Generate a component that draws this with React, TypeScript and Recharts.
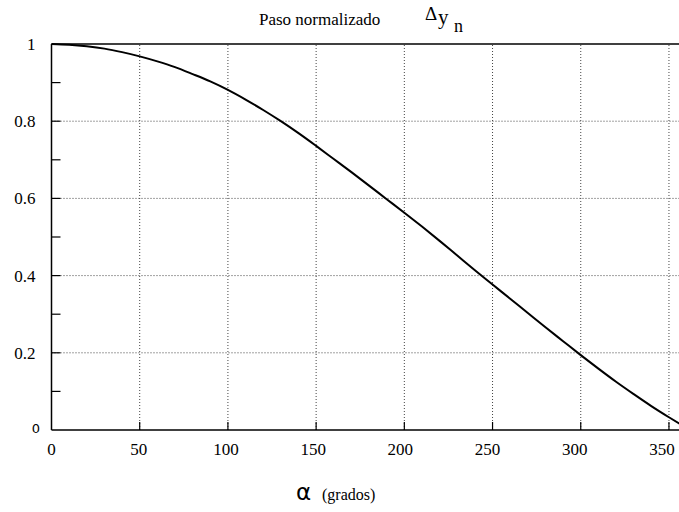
import React from "react";
import {
  LineChart,
  Line,
  XAxis,
  YAxis,
  ReferenceLine,
} from "recharts";

// ángulo (grados) y paso normalizado
const alphaDeg = [
  0, 10, 20, 30, 40, 50, 60, 70, 80, 90, 100, 110, 120, 130, 140, 150, 160, 170,
  180, 190, 200, 210, 220, 230, 240, 250, 260, 270, 280, 290, 300, 310, 320, 330,
  340, 350, 360,
];
const pasoNorm = [
  1.0, 0.998, 0.994, 0.988, 0.979, 0.968, 0.955, 0.94, 0.922, 0.903, 0.881, 0.856,
  0.829, 0.8, 0.769, 0.736, 0.702, 0.668, 0.633, 0.598, 0.563, 0.527, 0.49, 0.452,
  0.414, 0.377, 0.34, 0.303, 0.266, 0.23, 0.194, 0.159, 0.125, 0.093, 0.062, 0.033,
  0.005,
];

const xTicks = [0, 50, 100, 150, 200, 250, 300, 350];
const yTicks = [0, 0.1, 0.2, 0.3, 0.4, 0.5, 0.6, 0.7, 0.8, 0.9, 1];
const yLabels = ["0", "", "0.2", "", "0.4", "", "0.6", "", "0.8", "", "1"];
const xGrid = [50, 100, 150, 200, 250, 300, 350];
const yGrid = [0.2, 0.4, 0.6, 0.8];

const data = alphaDeg.map((a, i) => ({ a, v: pasoNorm[i] }));

const SERIF = "Liberation Serif";
const SANS = "DejaVu Sans";

const XTick = (props: any) => {
  const { x, y, payload } = props;
  return (
    <g>
      {payload.value !== 0 && (
        <line x1={x} y1={y} x2={x} y2={y - 8} stroke="#000" strokeWidth={1.2} />
      )}
      <text
        x={x - payload.value / 50}
        y={y + 25}
        textAnchor="middle"
        style={{ fontFamily: SERIF, fontSize: 17 }}
        fill="#000"
      >
        {payload.value}
      </text>
    </g>
  );
};

const YTick = (props: any) => {
  const { x, y, payload, index } = props;
  const label = yLabels[index] ?? "";
  const isZero = payload.value === 0;
  return (
    <g>
      {!isZero && payload.value !== 1 && (
        <line x1={x} y1={y} x2={x + 9} y2={y} stroke="#000" strokeWidth={1.2} />
      )}
      {label && (
        <text
          x={isZero ? 40 : 35.5}
          y={isZero ? y - 2 : y}
          dy="0.35em"
          textAnchor="end"
          style={{ fontFamily: isZero ? SANS : SERIF, fontSize: isZero ? 13 : 17 }}
          fill="#000"
        >
          {label}
        </text>
      )}
    </g>
  );
};

export default function App() {
  return (
    <div
      style={{
        position: "fixed",
        left: 0,
        top: 0,
        width: 679,
        height: 512,
        overflow: "hidden",
        background: "#fff",
      }}
    >
      <LineChart
        width={720}
        height={512}
        data={data}
        margin={{ top: 44, right: 33.4, left: 0, bottom: 52 }}
      >
        {xGrid.map((g) => (
          <ReferenceLine key={`vx-${g}`} x={g} stroke="#444" strokeDasharray="1 2" strokeWidth={1} />
        ))}
        {yGrid.map((g) => (
          <ReferenceLine key={`hy-${g}`} y={g} stroke="#444" strokeDasharray="1 2" strokeWidth={1} />
        ))}
        <ReferenceLine y={1} stroke="#000" strokeWidth={1.5} />
        <ReferenceLine x={360} stroke="#000" strokeWidth={1.5} />
        <XAxis
          dataKey="a"
          type="number"
          domain={[0, 360]}
          ticks={xTicks}
          interval={0}
          height={30}
          tickSize={0}
          tickMargin={0}
          tickLine={false}
          axisLine={{ stroke: "#000", strokeWidth: 1.5 }}
          tick={<XTick />}
        />
        <YAxis
          type="number"
          domain={[0, 1]}
          ticks={yTicks}
          interval={0}
          width={51.5}
          tickSize={0}
          tickMargin={0}
          tickLine={false}
          axisLine={{ stroke: "#000", strokeWidth: 1.5 }}
          tick={<YTick />}
        />
        <Line
          type="monotone"
          dataKey="v"
          stroke="#000"
          strokeWidth={2}
          dot={false}
          activeDot={false}
          isAnimationActive={false}
        />
      </LineChart>
      <svg
        width={679}
        height={512}
        style={{ position: "absolute", left: 0, top: 0, pointerEvents: "none" }}
      >
        <text x={259} y={25} style={{ fontFamily: SERIF, fontSize: 17 }} fill="#000">
          Paso normalizado
        </text>
        <text x={425} y={20} style={{ fontFamily: SERIF, fontSize: 19 }} fill="#000">
          Δ
        </text>
        <text x={438} y={24} style={{ fontFamily: SERIF, fontSize: 21 }} fill="#000">
          y
        </text>
        <text x={454} y={31.5} style={{ fontFamily: SERIF, fontSize: 18 }} fill="#000">
          n
        </text>
        <text x={296} y={500} style={{ fontFamily: SANS, fontSize: 23 }} fill="#000">
          α
        </text>
        <text x={322} y={500} style={{ fontFamily: SERIF, fontSize: 16 }} fill="#000">
          (grados)
        </text>
      </svg>
    </div>
  );
}
